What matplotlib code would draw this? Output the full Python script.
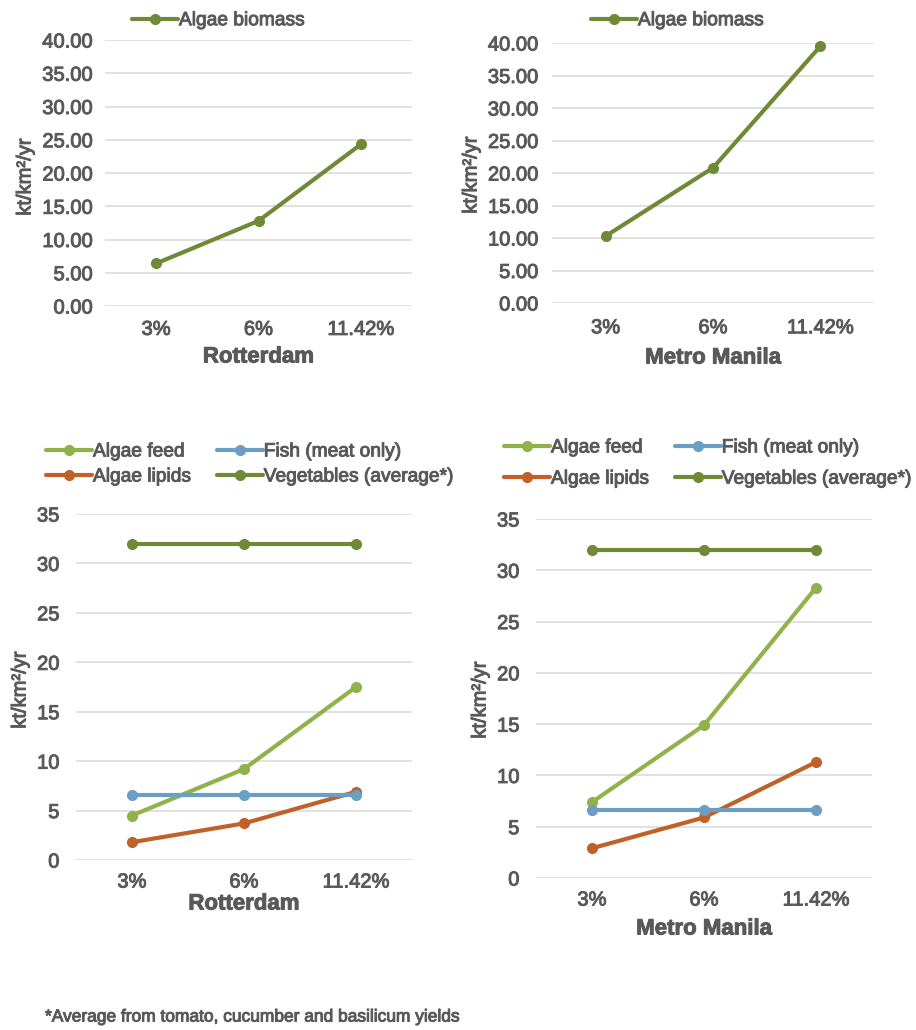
import matplotlib
matplotlib.use("Agg")
import matplotlib.pyplot as plt
import matplotlib.patheffects as pe

W, H = 916, 1030

# data
categories = ["3%", "6%", "11.42%"]
biomass_rotterdam = [6.4, 12.8, 24.3]
biomass_manila = [10.3, 20.8, 39.5]

feed_rotterdam = [4.5, 9.2, 17.5]
lipids_rotterdam = [1.8, 3.7, 6.9]
fish_rotterdam = [6.6, 6.6, 6.6]
veg_rotterdam = [32.0, 32.0, 32.0]

feed_manila = [7.4, 14.9, 28.3]
lipids_manila = [2.9, 5.9, 11.3]
fish_manila = [6.6, 6.6, 6.6]
veg_manila = [32.0, 32.0, 32.0]

OLIVE = "#6f8a37"
LIGHT_GREEN = "#8fb34a"
BLUE = "#6a9ec2"
ORANGE = "#c0612a"
TEXT = "#595959"
GRID = "#d9d9d9"
FS = 14.5
LEG_FS = 13.8

plt.rcParams["font.family"] = ["Liberation Sans", "DejaVu Sans"]
plt.rcParams["font.size"] = FS

# slightly heavier text, like the original rendering
heavy = [pe.withStroke(linewidth=0.7, foreground=TEXT)]

fig = plt.figure(figsize=(W / 100, H / 100), dpi=100)


def px_axes(left, top, right, bottom):
    # pixel box -> figure fraction
    return fig.add_axes([left / W, 1 - bottom / H, (right - left) / W, (bottom - top) / H])


def style_axes(ax, ymax, step, fmt, xlabel, ylab_x, ylab_y, xlab_y, xtick_pad, ytick_pad):
    ax.set_xlim(-0.5, 2.5)
    ax.set_ylim(0, ymax)
    ticks = [i * step for i in range(int(ymax / step) + 1)]
    ax.set_yticks(ticks)
    ax.set_yticklabels([fmt.format(t) for t in ticks])
    ax.set_xticks(range(len(categories)))
    ax.set_xticklabels(categories)
    ax.tick_params(length=0, colors=TEXT, labelsize=FS)
    ax.tick_params(axis="x", pad=xtick_pad)
    ax.tick_params(axis="y", pad=ytick_pad)
    for t in ax.get_xticklabels() + ax.get_yticklabels():
        t.set_path_effects(heavy)
    for s in ax.spines.values():
        s.set_visible(False)
    ax.grid(axis="y", color=GRID, linewidth=1.1)
    ax.set_axisbelow(True)
    fig.text(ylab_x / W, 1 - ylab_y / H, "kt/km²/yr", rotation=90, ha="center", va="center",
             color=TEXT, fontsize=FS, path_effects=heavy)
    pos = ax.get_position()
    fig.text(pos.x0 + pos.width / 2, 1 - xlab_y / H, xlabel, ha="center", va="center",
             color=TEXT, fontsize=16, fontweight="bold", path_effects=heavy)


def plot_line(ax, values, color, label):
    ax.plot(range(len(values)), values, color=color, linewidth=3, marker="o",
            markersize=7, label=label, solid_capstyle="round", clip_on=False)


def add_legend(ax, lx, ty, ncol, loc, rowgap=0.35, colgap=1.3):
    leg = ax.legend(ncol=ncol, loc=loc, bbox_to_anchor=(lx / W, 1 - ty / H),
                    bbox_transform=fig.transFigure, frameon=False, handlelength=2.4,
                    handletextpad=0.05, columnspacing=colgap, labelspacing=rowgap,
                    borderpad=0, borderaxespad=0, labelcolor=TEXT, fontsize=LEG_FS)
    for t in leg.get_texts():
        t.set_path_effects(heavy)


# top left: Rotterdam algae biomass
ax1 = px_axes(105, 40, 412, 306)
plot_line(ax1, biomass_rotterdam, OLIVE, "Algae biomass")
style_axes(ax1, 40, 5, "{:.2f}", "Rotterdam", 25, 177, 357, 10, 9)
add_legend(ax1, 132, 20.5, 1, "center left")

# top right: Metro Manila algae biomass
ax2 = px_axes(552, 43, 874, 303)
plot_line(ax2, biomass_manila, OLIVE, "Algae biomass")
style_axes(ax2, 40, 5, "{:.2f}", "Metro Manila", 471, 175, 358, 11, 10)
add_legend(ax2, 591, 20.5, 1, "center left")

# bottom left: Rotterdam products
ax3 = px_axes(76, 514, 412, 860)
plot_line(ax3, feed_rotterdam, LIGHT_GREEN, "Algae feed")
plot_line(ax3, lipids_rotterdam, ORANGE, "Algae lipids")
plot_line(ax3, fish_rotterdam, BLUE, "Fish (meat only)")
plot_line(ax3, veg_rotterdam, OLIVE, "Vegetables (average*)")
style_axes(ax3, 35, 5, "{:.0f}", "Rotterdam", 20, 690, 904, 9, 12)
add_legend(ax3, 46, 443, 2, "upper left", rowgap=0.4, colgap=1.4)

# bottom right: Metro Manila products
ax4 = px_axes(536, 519, 872, 878)
plot_line(ax4, feed_manila, LIGHT_GREEN, "Algae feed")
plot_line(ax4, lipids_manila, ORANGE, "Algae lipids")
plot_line(ax4, fish_manila, BLUE, "Fish (meat only)")
plot_line(ax4, veg_manila, OLIVE, "Vegetables (average*)")
style_axes(ax4, 35, 5, "{:.0f}", "Metro Manila", 480, 700, 929, 9, 12)
add_legend(ax4, 504, 439, 2, "upper left", rowgap=0.72, colgap=1.4)

fig.text(45 / W, 1 - 1017 / H, "*Average from tomato, cucumber and basilicum yields",
         ha="left", va="center", color=TEXT, fontsize=12.5, path_effects=heavy)

fig.savefig("out.png", dpi=100)
